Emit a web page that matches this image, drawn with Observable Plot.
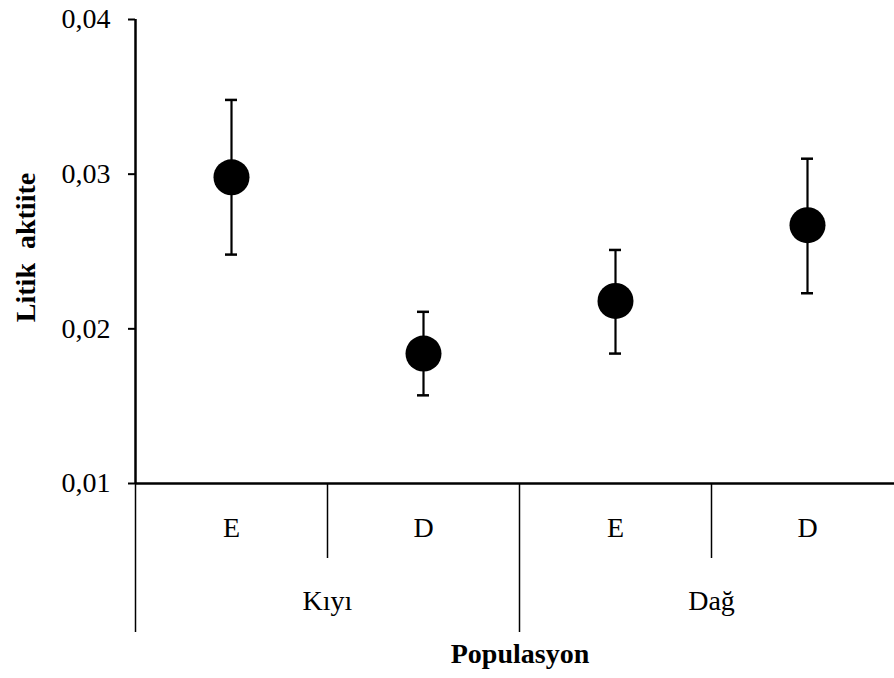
<!DOCTYPE html>
<html>
<head>
<meta charset="utf-8">
<script src="https://cdn.jsdelivr.net/npm/d3@7"></script>
<script src="https://cdn.jsdelivr.net/npm/@observablehq/plot@0.6"></script>
<style>
  html, body { margin: 0; padding: 0; background: #fff; }
</style>
</head>
<body>
<div id="chart"></div>
<script>
const groups = ["Kıyı", "Dağ"];
const subgroups = ["E", "D"];
const means = [0.0298, 0.0184, 0.0218, 0.0267];
const upper = [0.0348, 0.0211, 0.0251, 0.0310];
const lower = [0.0248, 0.0157, 0.0184, 0.0223];
const yTicks = [0.01, 0.02, 0.03, 0.04];
const yLabel = "Litik  aktiite";
const xLabel = "Populasyon";

const keys = [];
groups.forEach(g => subgroups.forEach(s => keys.push(g + "|" + s)));
const data = keys.map((k, i) => ({key: k, mean: means[i], hi: upper[i], lo: lower[i]}));

const font = "'Liberation Serif', 'Times New Roman', serif";
const fs = 28;
const half = 96;

const plot = Plot.plot({
  width: 894,
  height: 678,
  marginTop: 19,
  marginBottom: 195,
  marginLeft: 135,
  marginRight: 0,
  style: {fontFamily: font, fontSize: fs + "px", color: "black", background: "white"},
  x: {type: "band", domain: keys, range: [135, 903], padding: 0, axis: null},
  y: {domain: [0.01, 0.04], axis: null},
  marks: [
    // y axis
    Plot.axisY({ticks: yTicks, tickSize: 7, tickPadding: 18, strokeWidth: 2,
      tickFormat: d => d3.format(".2f")(d).replace(".", ","), fontSize: fs, label: null}),
    Plot.ruleX([keys[0]], {dx: -half, strokeWidth: 2.5}),
    Plot.ruleY([yTicks[0]], {strokeWidth: 2.5}),
    // category labels
    Plot.axisX({ticks: keys, tickSize: 0, tickPadding: 34,
      tickFormat: k => k.split("|")[1], fontSize: fs, label: null}),
    // separators
    Plot.axisX({ticks: [keys[0], keys[2]], tickSize: 149, tickFormat: () => "",
      dx: -half, strokeWidth: 1.5, label: null}),
    Plot.axisX({ticks: [keys[1], keys[3]], tickSize: 75, tickFormat: () => "",
      dx: -half, strokeWidth: 1.5, label: null}),
    // group labels
    Plot.text(groups, {x: g => g + "|D", frameAnchor: "bottom", dx: -half, dy: 118,
      lineAnchor: "middle", fontSize: fs, fill: "black"}),
    // axis titles
    Plot.text([xLabel], {frameAnchor: "bottom", dx: 5, dy: 171, lineAnchor: "middle",
      fontSize: fs, fontWeight: "bold", fill: "black"}),
    Plot.text([yLabel], {frameAnchor: "left", textAnchor: "middle", rotate: -90, dx: -109, dy: -4,
      lineAnchor: "middle", fontSize: fs, fontWeight: "bold", fill: "black"}),
    // error bars
    Plot.ruleX(data, {x: "key", y1: "lo", y2: "hi", strokeWidth: 2.2, stroke: "black"}),
    Plot.tickY(data, {x: "key", y: "hi", insetLeft: half - 6, insetRight: half - 6, strokeWidth: 2.5, stroke: "black"}),
    Plot.tickY(data, {x: "key", y: "lo", insetLeft: half - 6, insetRight: half - 6, strokeWidth: 2.5, stroke: "black"}),
    // means
    Plot.dot(data, {x: "key", y: "mean", r: 18, fill: "black", stroke: "none"})
  ]
});
document.getElementById("chart").appendChild(plot);
</script>
</body>
</html>
